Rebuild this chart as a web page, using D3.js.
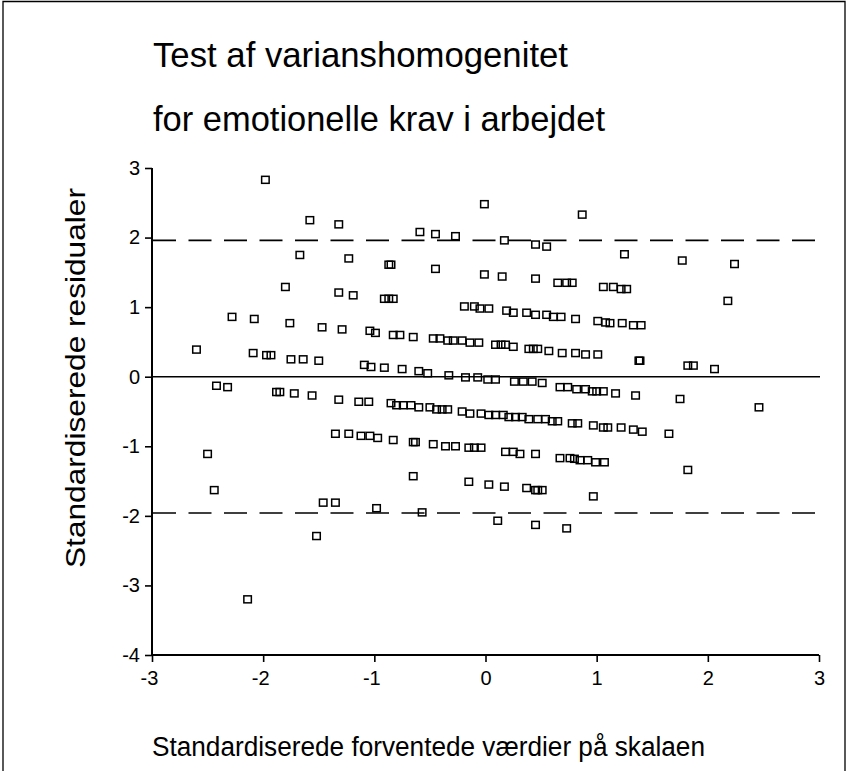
<!DOCTYPE html>
<html>
<head>
<meta charset="utf-8">
<script src="https://cdn.jsdelivr.net/npm/d3@7"></script>
<style>
  html, body { margin: 0; padding: 0; background: #fff; }
  svg { display: block; }
  text { font-family: "Liberation Sans", Arial, Helvetica, sans-serif; fill: #000; }
</style>
</head>
<body>
<svg id="chart" width="847" height="771"></svg>
<script>
// ---- Data ----
const titleLines = ["Test af varianshomogenitet", "for emotionelle krav i arbejdet"];
const xLabel = "Standardiserede forventede værdier på skalaen";
const yLabel = "Standardiserede residualer";
const xTicks = [-3, -2, -1, 0, 1, 2, 3];
const yTicks = [3, 2, 1, 0, -1, -2, -3, -4];
const limitLines = [1.96, -1.96];

// standardised expected values (x)
const expected = [
  -1.98,-1.58,-1.32,-1.67,-1.23,-1.80,-1.32,-1.19,-2.28,-2.08,
  -1.76,-1.47,-1.29,-1.04,-0.99,-2.60,-2.09,-1.97,-1.93,-1.75,
  -1.64,-1.50,-1.09,-1.03,-0.91,-0.75,-0.60,-0.52,-0.33,-0.18,
  -0.07,0.02,0.09,0.26,0.34,0.42,0.51,0.67,0.74,0.82,
  0.90,0.96,1.00,1.06,1.17,1.35,1.75,2.46,-0.01,0.87,
  -0.59,-0.45,-0.27,0.17,0.45,0.55,-0.87,-0.85,-0.45,-0.01,
  0.15,0.45,0.65,0.73,0.78,1.06,1.15,1.22,1.27,-0.91,
  -0.87,-0.83,-0.19,-0.10,-0.05,0.03,0.19,0.25,0.37,0.45,
  0.55,0.61,0.68,0.81,1.01,1.08,1.12,1.23,1.33,1.40,
  -0.83,-0.77,-0.65,-0.47,-0.41,-0.34,-0.29,-0.21,-0.14,-0.06,
  0.09,0.14,0.18,0.25,0.39,0.43,0.47,0.57,0.69,0.81,
  0.90,1.01,1.25,1.77,2.24,2.18,1.38,1.39,1.82,1.87,
  2.06,1.22,1.33,1.41,1.65,1.82,-2.42,-2.32,-1.88,-1.85,
  -1.72,-1.56,-1.32,-1.14,-1.05,-1.35,-1.23,-1.12,-2.50,-2.44,
  -1.46,-1.35,-1.52,-2.14,-0.85,-0.80,-0.74,-0.67,-0.60,-0.50,
  -0.44,-0.39,-0.34,-0.21,-0.14,-0.04,0.03,0.09,0.16,0.21,
  0.27,0.33,0.39,0.47,0.54,0.60,0.65,0.78,0.83,0.97,
  1.06,1.10,-1.04,-0.97,-0.83,-0.65,-0.63,-0.47,-0.36,-0.27,
  -0.15,-0.10,-0.04,0.18,0.25,0.31,0.45,0.67,0.76,0.80,
  0.85,0.92,0.99,1.07,-0.65,-0.15,0.03,0.17,0.37,0.45,
  0.47,0.51,0.97,-0.98,-0.57,0.11,0.45,0.73
];
// standardised residuals (y)
const residual = [
  2.83,2.25,2.19,1.75,1.70,1.29,1.21,1.17,0.86,0.83,
  0.77,0.71,0.68,0.66,0.63,0.39,0.34,0.31,0.31,0.25,
  0.25,0.23,0.17,0.14,0.13,0.11,0.08,0.05,0.02,-0.01,
  -0.01,-0.04,-0.04,-0.07,-0.07,-0.07,-0.09,-0.15,-0.15,-0.18,
  -0.18,-0.21,-0.21,-0.21,-0.24,-0.27,-0.32,-0.44,2.48,2.33,
  2.08,2.05,2.02,1.96,1.90,1.87,1.61,1.61,1.55,1.47,
  1.44,1.41,1.35,1.35,1.35,1.29,1.29,1.26,1.26,1.12,
  1.12,1.12,1.01,1.01,0.98,0.98,0.95,0.92,0.92,0.89,
  0.89,0.86,0.86,0.83,0.80,0.78,0.77,0.77,0.74,0.74,
  0.60,0.60,0.57,0.55,0.55,0.52,0.52,0.52,0.49,0.49,
  0.46,0.46,0.46,0.43,0.40,0.40,0.40,0.37,0.34,0.34,
  0.32,0.32,1.76,1.67,1.62,1.09,0.23,0.23,0.16,0.16,
  0.11,-0.73,-0.76,-0.79,-0.82,-1.34,-0.13,-0.15,-0.22,-0.22,
  -0.24,-0.27,-0.33,-0.36,-0.36,-0.82,-0.82,-0.85,-1.11,-1.63,
  -1.81,-1.81,-2.29,-3.20,-0.38,-0.41,-0.41,-0.41,-0.44,-0.44,
  -0.47,-0.47,-0.47,-0.50,-0.53,-0.53,-0.55,-0.55,-0.55,-0.58,
  -0.58,-0.58,-0.61,-0.61,-0.61,-0.64,-0.64,-0.67,-0.67,-0.70,
  -0.73,-0.73,-0.85,-0.88,-0.91,-0.94,-0.94,-0.97,-1.00,-1.00,
  -1.02,-1.02,-1.02,-1.08,-1.08,-1.11,-1.11,-1.17,-1.17,-1.18,
  -1.20,-1.20,-1.23,-1.23,-1.43,-1.51,-1.55,-1.58,-1.60,-1.63,
  -1.63,-1.63,-1.72,-1.89,-1.95,-2.07,-2.13,-2.18
];

// ---- Layout ----
const W = 847, H = 771;
const plot = { left: 152, right: 819, top: 168, bottom: 655 };

const svg = d3.select("#chart");
svg.append("rect").attr("width", W).attr("height", H).attr("fill", "#fff");

// outer frame
svg.append("path").attr("d", `M3,${H} V1.5 H845 V${H}`)
  .attr("stroke", "#000").attr("stroke-width", 1.3).attr("fill", "none");

const x = d3.scaleLinear().domain([-3, 3]).range([plot.left, plot.right]);
const y = d3.scaleLinear().domain([-4, 3]).range([plot.bottom, plot.top]);

// titles
const titleY = [67, 131];
const titleLen = [415, 452];
titleLines.forEach((t, i) => {
  svg.append("text")
    .attr("x", 153).attr("y", titleY[i])
    .attr("font-size", 35)
    .attr("textLength", titleLen[i]).attr("lengthAdjust", "spacingAndGlyphs")
    .text(t);
});

// reference lines
svg.append("line")
  .attr("x1", x(-3)).attr("x2", x(3) + 1)
  .attr("y1", y(0)).attr("y2", y(0))
  .attr("stroke", "#000").attr("stroke-width", 1.6);

svg.selectAll("line.limit").data(limitLines).enter().append("line")
  .attr("class", "limit")
  .attr("x1", x(-3) + 1).attr("x2", x(3))
  .attr("y1", d => y(d)).attr("y2", d => y(d))
  .attr("stroke", "#000").attr("stroke-width", 1.6)
  .attr("stroke-dasharray", "23,12.5");

// axes
const fmt = d => String(d);
const xAxis = d3.axisBottom(x).tickValues(xTicks).tickSize(7).tickPadding(9).tickFormat(fmt);
const yAxis = d3.axisLeft(y).tickValues(yTicks).tickSize(7).tickPadding(5).tickFormat(fmt);

const gx = svg.append("g").attr("transform", `translate(0,${plot.bottom})`).call(xAxis);
const gy = svg.append("g").attr("transform", `translate(${plot.left},0)`).call(yAxis);

[gx, gy].forEach(g => {
  g.select(".domain").attr("stroke", "#000").attr("stroke-width", 2)
    .attr("d", g === gx ? `M${plot.left},0H${plot.right}` : `M0,${plot.top}V${plot.bottom}`);
  g.selectAll(".tick line").attr("stroke", "#000").attr("stroke-width", 1.6);
  g.selectAll(".tick text")
    .attr("font-family", "'Liberation Sans', Arial, sans-serif")
    .attr("font-size", 20).attr("fill", "#000");
});
gx.selectAll(".tick text").attr("dx", d => d < 0 ? "-0.15em" : 0);

// axis titles
svg.append("text")
  .attr("x", 152).attr("y", 756)
  .attr("font-size", 27)
  .attr("textLength", 553).attr("lengthAdjust", "spacingAndGlyphs")
  .text(xLabel);

svg.append("text")
  .attr("transform", `translate(85,378) rotate(-90)`)
  .attr("text-anchor", "middle")
  .attr("font-size", 27)
  .attr("textLength", 380).attr("lengthAdjust", "spacingAndGlyphs")
  .text(yLabel);

// points
const pts = expected.map((v, i) => ({ x: v, y: residual[i] }));
const sw = 7.5, sh = 7;
svg.append("g").selectAll("rect").data(pts).enter().append("rect")
  .attr("x", d => x(d.x) - sw / 2)
  .attr("y", d => y(d.y) - sh / 2)
  .attr("width", sw).attr("height", sh)
  .attr("fill", "none").attr("stroke", "#000").attr("stroke-width", 1.5);
</script>
</body>
</html>
